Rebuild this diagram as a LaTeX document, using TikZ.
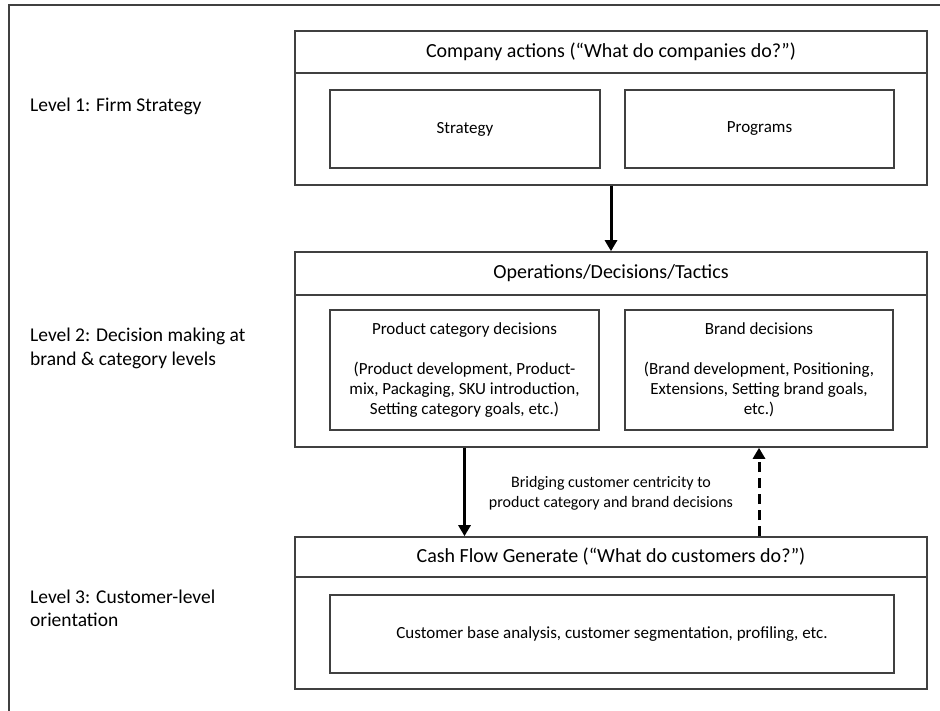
\documentclass[tikz,border=0pt]{standalone}
\usepackage{fontspec}
\setmainfont{Carlito}
\usetikzlibrary{arrows.meta,positioning}
\tikzset{
    box/.style={rectangle, draw=black!75, line width=1.6pt, inner sep=0mm, align=center},
    block/.style={box, minimum width=632pt},
    head/.style={block, font=\fontsize{20}{24}\selectfont},
    inbox/.style={box, font=\fontsize{17}{20}\selectfont},
    level/.style={anchor=west, align=left, inner sep=0mm, font=\fontsize{19.5}{23.5}\selectfont},
    flow/.style={line width=3pt, -{Triangle[length=11pt,width=12pt]}}
}

\begin{document}
\begin{tikzpicture}[x=1pt, y=-1pt]
    \useasboundingbox (0,0) rectangle (940,711);
    \draw [draw=black!75, line width=1.6pt] (940,5) -- (9,5) -- (9,711);

    % level 1
    \node (firmhead) [head, minimum height=42pt] at (611,52) {Company actions (``What do companies do?'')};
    \node (firmbody) [block, minimum height=112pt] at (611,129) {};
    \node (strategy) [inbox, minimum width=270pt, minimum height=78pt] at (465,129) {Strategy};
    \node (programs) [inbox, minimum width=269pt, minimum height=78pt] at (759.5,129) {Programs};

    % level 2
    \node (opshead) [head, minimum height=43pt] at (611,273.5) {Operations/Decisions/Tactics};
    \node (opsbody) [block, minimum height=152pt] at (611,371) {};
    \node (product) [inbox, minimum width=269pt, minimum height=120pt] at (464.5,370)
        {Product category decisions\\[20pt](Product development, Product-\\mix, Packaging, SKU introduction,\\Setting category goals, etc.)};
    \node (brand) [inbox, minimum width=268pt, minimum height=120pt] at (759,370)
        {Brand decisions\\[20pt](Brand development, Positioning,\\Extensions, Setting brand goals,\\etc.)};

    % level 3
    \node (cashhead) [head, minimum height=40pt] at (611,557) {Cash Flow Generate (``What do customers do?'')};
    \node (cashbody) [block, minimum height=112pt] at (611,633) {};
    \node (customer) [inbox, minimum width=564pt, minimum height=78pt] at (612,634)
        {Customer base analysis, customer segmentation, profiling, etc.};

    \node (bridge) [inner sep=0mm, align=center, font=\fontsize{16}{20}\selectfont] at (611,493)
        {Bridging customer centricity to\\product category and brand decisions};

    \node (lev1) [level] at (30,106) {Level 1: Firm Strategy};
    \node (lev2) [level] at (30,348.5) {Level 2: Decision making at\\brand \& category levels};
    \node (lev3) [level] at (30,608.5) {Level 3: Customer-level\\orientation};

    \draw [flow] (firmbody.south) -- (opshead.north);
    \draw [flow] (product |- opsbody.south) -- (product |- cashhead.north);
    \draw [flow, dash pattern=on 10pt off 6pt] (brand |- cashhead.north) -- (brand |- opsbody.south);
\end{tikzpicture}
\end{document}
